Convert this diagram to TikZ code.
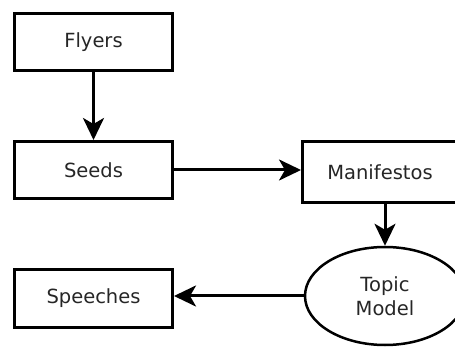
\documentclass[tikz,border=0pt]{standalone}
\usepackage{fontspec}
\setmainfont{DejaVu Sans}
\usetikzlibrary{shapes.geometric,arrows.meta}
\begin{document}
\begin{tikzpicture}[x=1pt,y=-1pt,
  txt/.style={font=\fontsize{19.5}{24}\selectfont,text=black!85},
  box/.style={draw,line width=3pt,minimum width=158pt,minimum height=57pt,inner sep=0pt,txt},
  oval/.style={draw,ellipse,line width=2.5pt,minimum width=160pt,minimum height=98pt,inner sep=0pt,align=center,txt},
  conn/.style={line width=3pt,-{Stealth[length=22pt,width=21pt,inset=6pt]}}]
\useasboundingbox (0,0) rectangle (455,347);
\clip (0,0) rectangle (455,347);
\node[box] (flyers) at (93.5,42) {Flyers};
\node[box] (seeds) at (93.5,170) {Seeds};
\node[box,minimum width=176pt,minimum height=61pt] (manifestos) at (390.5,172) {};
\node[txt] (manifestostext) at (380,172) {Manifestos};
\node[oval] (topic) at (385,296) {Topic\\Model};
\node[box,minimum height=58pt] (speeches) at (93.5,298.5) {Speeches};
\draw[conn] (flyers) -- (seeds);
\draw[conn] (seeds.east) -- (seeds.east -| manifestos.west);
\draw[conn] (manifestos.south -| topic.north) -- (topic.north);
\draw[conn] (topic.west) -- (speeches.east |- topic.west);
\end{tikzpicture}
\end{document}
